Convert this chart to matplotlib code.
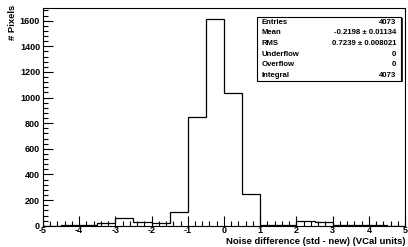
import numpy as np
import matplotlib
matplotlib.use("Agg")
import matplotlib.pyplot as plt
from matplotlib.ticker import MultipleLocator

plt.rcParams['font.family'] = ['Liberation Sans', 'DejaVu Sans']
plt.rcParams['font.weight'] = 'bold'
plt.rcParams['axes.unicode_minus'] = False

# bin edges from -5 to 5, width 0.5
edges = np.arange(-5, 5.01, 0.5)
counts = [0, 3, 3, 25, 57, 33, 18, 110, 845, 1615, 1035, 250,
          4, 7, 38, 28, 4, 3, 3, 2]

stat_names = ['Entries', 'Mean', 'RMS', 'Underflow', 'Overflow', 'Integral']
stat_values = ['4073', '-0.2198 \u00b1 0.01134', '0.7239 \u00b1 0.008021',
               '0', '0', '4073']

fig = plt.figure(figsize=(4.08, 2.47), dpi=100)
ax = fig.add_axes([0.105, 0.086, 0.888, 0.882])

ax.stairs(counts, edges, color='black', linewidth=0.9, baseline=0)

ax.set_xlim(-5, 5)
ax.set_ylim(0, 1700)
ax.xaxis.set_major_locator(MultipleLocator(1))
ax.xaxis.set_minor_locator(MultipleLocator(0.2))
ax.yaxis.set_major_locator(MultipleLocator(200))
ax.yaxis.set_minor_locator(MultipleLocator(40))
ax.tick_params(which='both', direction='in', top=False, right=False,
               labelsize=6.5)
ax.tick_params(axis='x', pad=0.5)
ax.tick_params(axis='y', pad=2)
ax.tick_params(which='major', length=7, width=0.8)
ax.tick_params(which='minor', length=3.5, width=0.8)
for lab in ax.get_xticklabels() + ax.get_yticklabels():
    lab.set_fontweight('bold')
for s in ax.spines.values():
    s.set_linewidth(0.8)

fig.text(0.993, 0.004, 'Noise difference (std - new) (VCal units)',
         ha='right', va='bottom', fontsize=6.8, fontweight='bold')
fig.text(0.02, 0.98, '# Pixels', rotation=90, ha='left', va='top',
         fontsize=6.8, fontweight='bold')

# stats box
bx0, by0, bx1, by1 = 257 / 408, 1 - 81 / 247, 401 / 408, 1 - 17 / 247
fig.patches.append(plt.Rectangle((bx0 + 0.004, by0 - 0.006), bx1 - bx0, by1 - by0,
                                 transform=fig.transFigure, facecolor='#333333',
                                 edgecolor='none', zorder=5))
fig.patches.append(plt.Rectangle((bx0, by0), bx1 - bx0, by1 - by0,
                                 transform=fig.transFigure, facecolor='white',
                                 edgecolor='black', linewidth=0.8, zorder=6))
rowh = (by1 - by0) / len(stat_names)
for i, (n, v) in enumerate(zip(stat_names, stat_values)):
    y = by1 - (i + 0.5) * rowh
    fig.text(bx0 + 0.012, y, n, ha='left', va='center', fontsize=5.6,
             fontweight='bold', zorder=7)
    fig.text(bx1 - 0.012, y, v, ha='right', va='center', fontsize=5.6,
             fontweight='bold', zorder=7)

fig.savefig('out.png', dpi=100)
